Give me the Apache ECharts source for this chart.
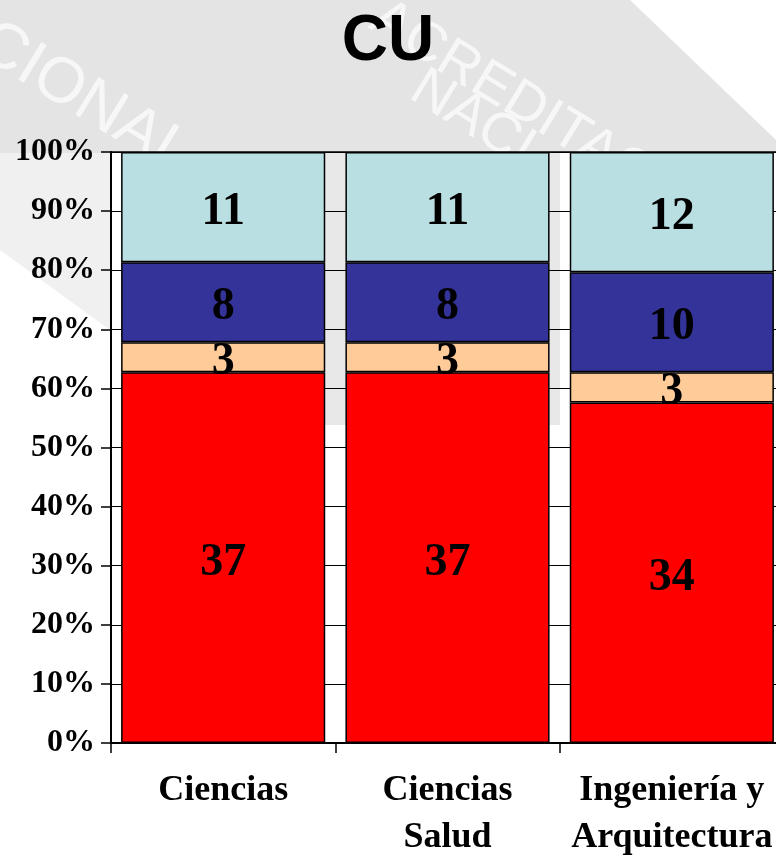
<!DOCTYPE html>
<html>
<head>
<meta charset="utf-8">
<script src="https://cdn.jsdelivr.net/npm/echarts@6/dist/echarts.min.js"></script>
<style>
html,body{margin:0;padding:0;background:#fff;}
#chart{width:776px;height:863px;}
</style>
</head>
<body>
<div id="chart"></div>
<script>
var categories = ['Ciencias', 'Ciencias\nSalud', 'Ingeniería y\nArquitectura'];
var seriesNames = ['A', 'B', 'C', 'D'];
var redValues = [37, 37, 34];
var peachValues = [3, 3, 3];
var blueValues = [8, 8, 10];
var lightBlueValues = [11, 11, 12];
var colors = ['#FF0000', '#FFCC99', '#333399', '#BADFE3'];

var allValues = [redValues, peachValues, blueValues, lightBlueValues];
var totals = categories.map(function (c, i) {
  return allValues.reduce(function (s, arr) { return s + arr[i]; }, 0);
});

var chart = echarts.init(document.getElementById('chart'));

var series = allValues.map(function (arr, k) {
  return {
    name: seriesNames[k],
    type: 'bar',
    stack: 'total',
    barCategoryGap: '9%',
    data: arr.map(function (v, i) { return v / totals[i] * 100; }),
    itemStyle: { color: colors[k], borderColor: '#000', borderWidth: 1.5 },
    label: {
      show: true,
      position: 'inside',
      offset: [0, 5],
      color: '#000',
      fontFamily: 'Liberation Serif',
      fontWeight: 'bold',
      fontSize: 46,
      formatter: function (p) { return arr[p.dataIndex]; }
    }
  };
});

chart.setOption({
  backgroundColor: '#fff',
  animation: false,
  graphic: [
    { type: 'polygon', z: -10, silent: true,
      shape: { points: [[0,0],[630,0],[776,140],[776,153],[0,153]] },
      style: { fill: '#e4e4e4' } },
    { type: 'polygon', z: -10, silent: true,
      shape: { points: [[0,153],[110,153],[110,330],[0,250]] },
      style: { fill: '#f0f0f0' } },
    { type: 'polygon', z: -10, silent: true,
      shape: { points: [[320,153],[560,153],[560,425],[320,425]] },
      style: { fill: '#e8e8e8' } },
    { type: 'text', z: -9, silent: true, x: 0, y: 10, rotation: -0.55,
      style: { text: 'CIONAL DE', fill: '#f7f7f7', font: '64px "Liberation Sans"' } },
    { type: 'text', z: -9, silent: true, x: 390, y: -10, rotation: -0.55,
      style: { text: 'ACREDITACIÓ', fill: '#f7f7f7', font: '56px "Liberation Sans"' } },
    { type: 'text', z: -9, silent: true, x: 430, y: 60, rotation: -0.55,
      style: { text: 'NACI', fill: '#f7f7f7', font: '56px "Liberation Sans"' } }
  ],
  title: {
    text: 'CU',
    left: 'center',
    top: 5,
    textStyle: { fontFamily: 'Liberation Sans', fontWeight: 'bold', fontSize: 64, color: '#000' }
  },
  grid: {
    left: 111, width: 673, top: 152, bottom: 120,
    outerBoundsMode: 'none',
    containLabel: false,
    show: true, borderColor: '#000', borderWidth: 1.5, backgroundColor: 'transparent'
  },
  xAxis: {
    type: 'category',
    data: categories,
    axisLine: { lineStyle: { color: '#000', width: 2 } },
    axisTick: { show: true, length: 10, lineStyle: { color: '#000', width: 1.5 } },
    axisLabel: {
      color: '#000', fontFamily: 'Liberation Serif', fontWeight: 'bold',
      fontSize: 36, lineHeight: 47, margin: 24, interval: 0
    }
  },
  yAxis: {
    type: 'value',
    min: 0, max: 100, interval: 10,
    axisLine: { show: true, lineStyle: { color: '#000', width: 2 } },
    axisTick: { show: true, length: 10, lineStyle: { color: '#000', width: 1.5 } },
    splitLine: { show: true, lineStyle: { color: '#000', width: 1 } },
    axisLabel: {
      formatter: '{value}%', color: '#000', fontFamily: 'Liberation Serif',
      fontWeight: 'bold', fontSize: 32, margin: 16
    }
  },
  series: series
});
</script>
</body>
</html>
